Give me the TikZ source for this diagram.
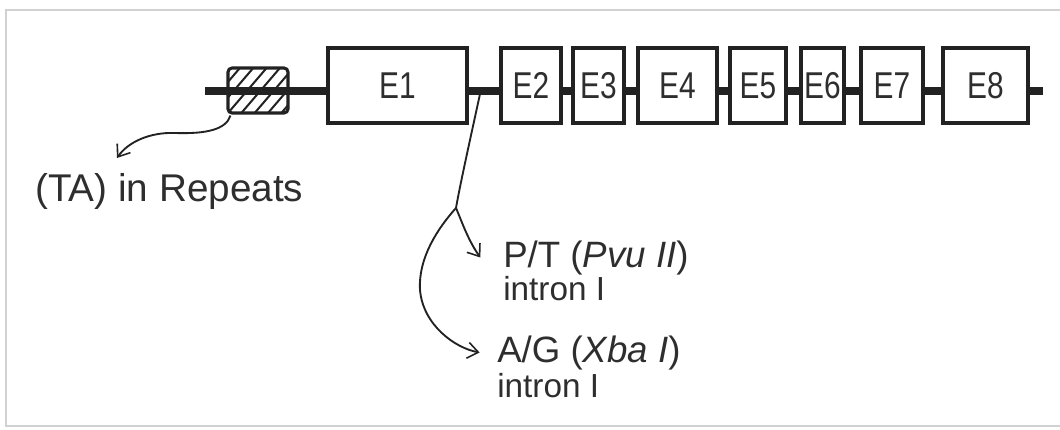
\documentclass[tikz,border=0pt]{standalone}
\usepackage{fontspec}
\setmainfont{Liberation Sans}
\newfontfamily\exonfont[FakeStretch=0.8]{Liberation Sans}
\usetikzlibrary{arrows.meta}
\definecolor{ink}{HTML}{222222}
\definecolor{txt}{HTML}{2E2E2E}
\tikzset{
  exon/.style={draw=ink,line width=2.3pt,fill=white,minimum height=56.25pt,inner sep=0pt,
    font=\exonfont\fontsize{28}{28}\selectfont,text=txt},
  promoter/.style={draw=ink,line width=2.3pt,rounded corners=3pt,minimum width=45pt,minimum height=33.75pt,
    path picture={\foreach \k in {-40,-30,...,50}
      \draw[ink,line width=1.5pt] ([xshift=\k pt]path picture bounding box.south west) -- ++(36pt,42pt);}},
  link/.style={draw=ink,line width=1.4pt},
  tip/.style={-{Straight Barb[length=8pt,width=12pt,line width=1.2pt]}},
  lab/.style={inner sep=0pt,text=txt,anchor=base west},
}
\begin{document}
\begin{tikzpicture}[x=0.75pt,y=-0.75pt]
\useasboundingbox (0,0) rectangle (1060,429);
\draw[black!18,line width=2pt] (1080,10) -- (6,10) -- (6,426) -- (1080,426);
\path (205,91) coordinate (bbstart) (1043,91) coordinate (bbend)
  (480,94) coordinate (snp) (456,208) coordinate (fork) (117,158) coordinate (taTip);
\draw[ink,line width=6pt] (bbstart) -- (bbend);
\node[promoter] (prom) at (258,90.5) {};
\foreach \n/\l/\r in {1/328/467,2/501/561,3/573/624,4/638/717,5/730/786,6/801/844,7/861/923,8/943/1028}
  \node[exon,minimum width={(\r-\l)*0.75pt}] (E\n) at ({(\l+\r)/2},85.5) {E\n};
\node[lab,font=\fontsize{29}{29}\selectfont] (repeats) at (35,201) {(TA) in Repeats};
\node[lab,font=\fontsize{27.5}{27.5}\selectfont] (pvu) at (503,267) {P/T (\textit{Pvu II})};
\node[lab,font=\fontsize{25}{25}\selectfont] (pvuint) at (503,300) {intron I};
\node[lab,font=\fontsize{27.5}{27.5}\selectfont] (xba) at (497,362) {A/G (\textit{Xba I})};
\node[lab,font=\fontsize{25}{25}\selectfont] (xbaint) at (497,397) {intron I};
\draw[link,tip] ([shift={(4,1)}]prom.south west) .. controls (226,130) and (205,134) .. (175,133)
  .. controls (150,132) and (128,142) .. (taTip);
\draw[link] (snp) .. controls (470,140) and (460,185) .. (fork);
\draw[link,tip] (fork) .. controls (462,222) and (468,240) .. ([xshift=-17pt]pvu.west);
\draw[link,tip] (fork) .. controls (438,228) and (418,258) .. (420,290)
  .. controls (423,325) and (455,348) .. ([xshift=-13pt]xba.west);
\end{tikzpicture}
\end{document}
